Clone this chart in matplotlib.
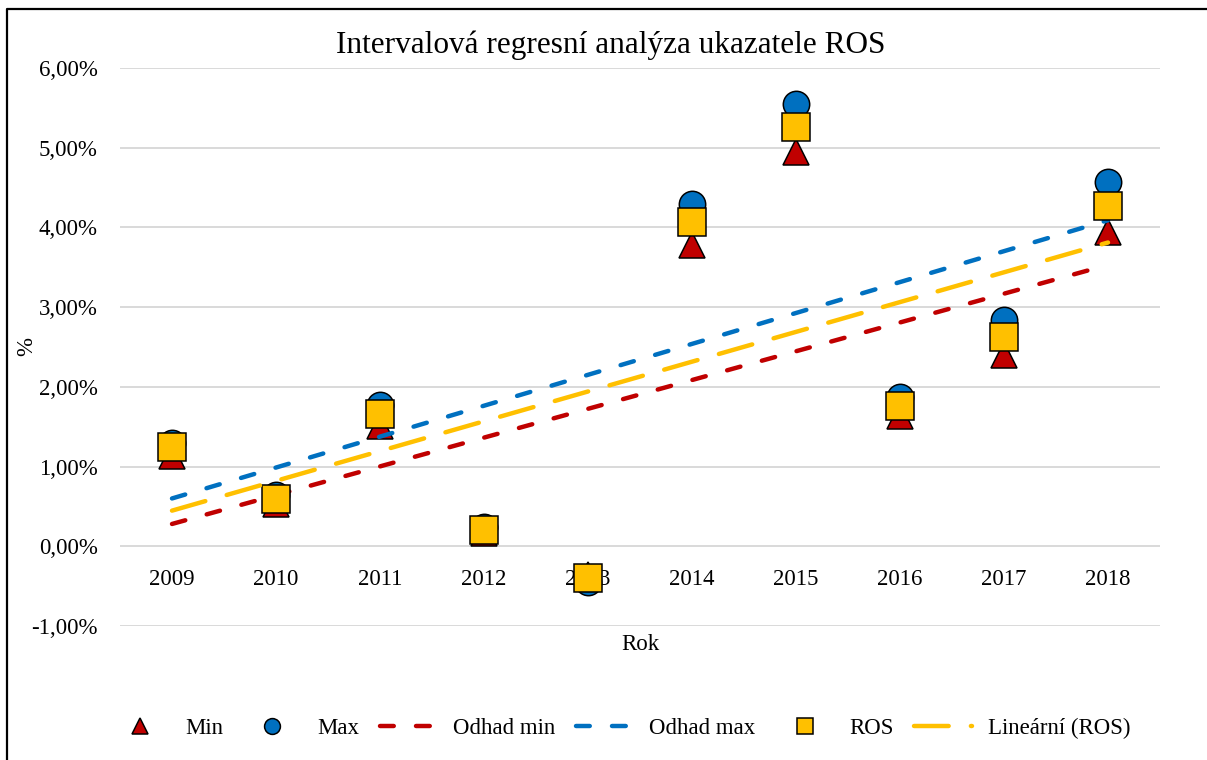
import matplotlib.pyplot as plt
import numpy as np
from matplotlib.lines import Line2D

# data (values in %)
years = ['2009', '2010', '2011', '2012', '2013', '2014', '2015', '2016', '2017', '2018']
ros_min = [1.13, 0.53, 1.51, 0.17, -0.36, 3.78, 4.94, 1.63, 2.40, 3.94]
ros_max = [1.30, 0.64, 1.77, 0.24, -0.45, 4.29, 5.55, 1.87, 2.84, 4.57]
ros = [1.24, 0.59, 1.66, 0.21, -0.40, 4.07, 5.26, 1.76, 2.63, 4.27]
# estimated lines (first and last year)
odhad_min = [0.28, 3.53]
odhad_max = [0.60, 4.09]
y_ticks = [-1, 0, 1, 2, 3, 4, 5, 6]

plt.rcParams['font.family'] = 'Liberation Serif'

RED = '#C00000'
BLUE = '#0070C0'
YELLOW = '#FFC000'

fig = plt.figure(figsize=(12.07, 7.60), dpi=100)
ax = fig.add_axes([120 / 1207, 1 - 626 / 760, 1040 / 1207, 558 / 760])

x = np.arange(len(years))
ends = [x[0], x[-1]]

ax.plot(x, ros_min, linestyle='none', marker='^', ms=19, mfc=RED, mec='black',
        mew=1.1, label='Min', zorder=3)
ax.plot(x, ros_max, linestyle='none', marker='o', ms=19, mfc=BLUE, mec='black',
        mew=1.1, label='Max', zorder=4)
ax.plot(ends, odhad_min, color=RED, lw=3.2, linestyle=(0, (3.1, 5)),
        dash_capstyle='round', label='Odhad min', zorder=5)
ax.plot(ends, odhad_max, color=BLUE, lw=3.2, linestyle=(0, (3.1, 5)),
        dash_capstyle='round', label='Odhad max', zorder=5)
ax.plot(x, ros, linestyle='none', marker='s', ms=19.5, mfc=YELLOW, mec='black',
        mew=1.1, label='ROS', zorder=6)

# linear trendline of ROS (like Excel)
k, q = np.polyfit(x, ros, 1)
trend = [k * xi + q for xi in ends]
ax.plot(ends, trend, color=YELLOW, lw=3.2, linestyle=(0, (7.8, 5)),
        dash_capstyle='round', label='Lineární (ROS)', zorder=7)

ax.set_xlim(-0.5, len(years) - 0.5)
ax.set_ylim(-1, 6)
ax.set_yticks(y_ticks)
ax.set_yticklabels(['{:.2f}%'.format(v).replace('.', ',') for v in y_ticks])
ax.set_xticks(x)
ax.set_xticklabels(years)
ax.tick_params(axis='both', length=0, labelsize=16.5)
ax.tick_params(axis='y', pad=16)
ax.tick_params(axis='x', pad=16)

for s in ['top', 'right', 'left']:
    ax.spines[s].set_visible(False)
ax.spines['bottom'].set_position(('data', 0))
ax.spines['bottom'].set_visible(False)
ax.grid(axis='y', color='#D9D9D9', lw=1.4)
ax.set_axisbelow(True)

fig.text(611 / 1207, 1 - 45 / 760, 'Intervalová regresní analýza ukazatele ROS',
         ha='center', va='center', fontsize=22.5)
fig.text(640 / 1207, 1 - 645 / 760, 'Rok', ha='center', va='center', fontsize=16.5)
fig.text(27 / 1207, 1 - 346 / 760, '%', ha='center', va='center', fontsize=16.5,
         rotation=90)

fig.legend(loc='center', bbox_to_anchor=(621 / 1207, 32 / 760), ncol=6,
           frameon=False, fontsize=16.5, markerscale=0.6, handlelength=2.5,
           handletextpad=0.7, columnspacing=0.9)

# chart area border (left and top visible)
fig.add_artist(Line2D([7 / 1207, 7 / 1207, 1.0], [0.0, 1 - 9 / 760, 1 - 9 / 760],
                      color='black', lw=1.6, transform=fig.transFigure))

fig.savefig('out.png', dpi=100)
